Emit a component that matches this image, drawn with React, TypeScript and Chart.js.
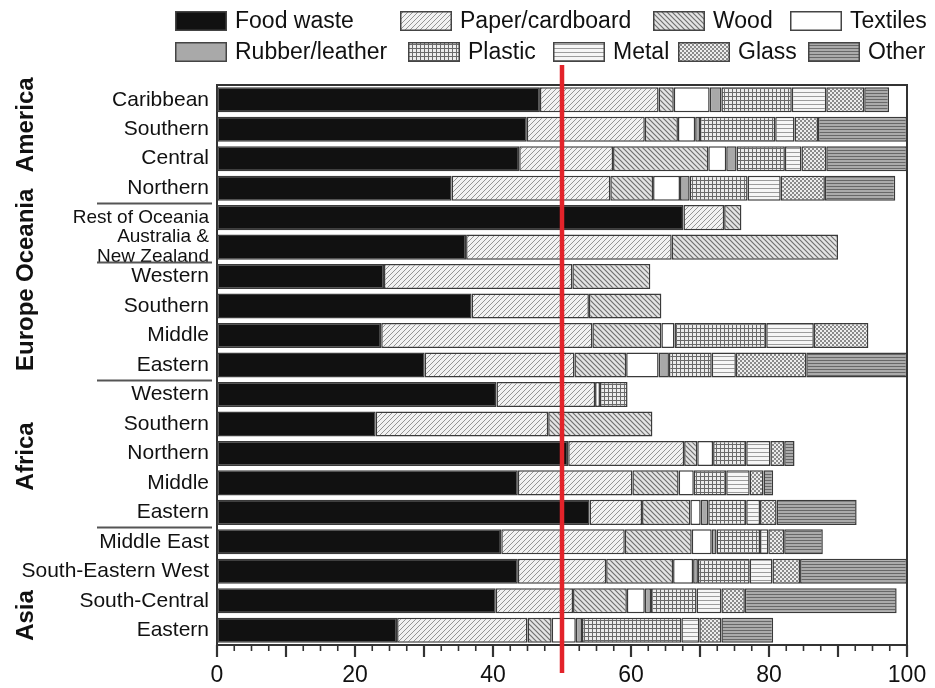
import React, { useEffect, useRef } from 'react';
import { Chart, registerables } from 'chart.js';

Chart.register(...registerables);

const FONT = '"Liberation Sans", Arial, Helvetica, sans-serif';

// ---------------- data ----------------
const categories: (string | string[])[] = [
  'Caribbean', 'Southern', 'Central', 'Northern',
  'Rest of Oceania', ['Australia &', 'New Zealand'],
  'Western', 'Southern', 'Middle', 'Eastern',
  'Western', 'Southern', 'Northern', 'Middle', 'Eastern',
  'Middle East', 'South-Eastern West', 'South-Central', 'Eastern',
];

const seriesNames = ['Food waste', 'Paper/cardboard', 'Wood', 'Textiles', 'Rubber/leather', 'Plastic', 'Metal', 'Glass', 'Other'];

const foodWaste = [46.8, 44.9, 43.8, 34.0, 67.6, 36.1, 24.2, 36.9, 23.8, 30.1, 40.5, 23.0, 50.9, 43.6, 54.0, 41.2, 43.6, 40.4, 26.1];
const paperCardboard = [17.2, 17.1, 13.6, 23.0, 5.9, 29.8, 27.3, 17.0, 30.6, 21.7, 14.3, 25.0, 16.8, 16.6, 7.6, 17.9, 12.8, 11.2, 18.9];
const wood = [2.2, 4.8, 13.8, 6.2, 2.5, 24.1, 11.3, 10.5, 10.0, 7.5, null, 15.1, 1.9, 6.7, 7.0, 9.7, 9.7, 7.8, 3.5];
const textiles = [5.2, 2.5, 2.6, 3.9, null, null, null, null, 1.9, 4.7, 0.7, null, 2.3, 2.2, 1.5, 2.9, 2.9, 2.6, 3.5];
const rubberLeather = [1.7, 0.7, 1.5, 1.4, null, null, null, null, null, 1.5, null, null, null, null, 1.1, 0.7, 0.7, 0.9, 0.9];
const plastic = [10.2, 10.9, 7.0, 8.4, null, null, null, null, 13.3, 6.2, 4.0, null, 4.8, 4.7, 5.5, 6.3, 7.5, 6.6, 14.4];
const metal = [5.0, 2.8, 2.4, 4.8, null, null, null, null, 6.9, 3.5, null, null, 3.5, 3.4, 2.0, 1.2, 3.3, 3.6, 2.6];
const glass = [5.5, 3.4, 3.6, 6.4, null, null, null, null, 7.9, 10.2, null, null, 2.0, 2.0, 2.4, 2.3, 4.0, 3.4, 3.2];
const other = [3.6, 12.9, 11.7, 10.2, null, null, null, null, null, 14.6, null, null, 1.5, 1.4, 11.6, 5.6, 15.5, 22.0, 7.5];

const seriesValues = [foodWaste, paperCardboard, wood, textiles, rubberLeather, plastic, metal, glass, other];

const regionNames = ['America', 'Oceania', 'Europe', 'Africa', 'Asia'];
const regionLabelAt = [0.85, 4.6, 7.8, 12.1, 17.5]; // category position of each rotated region label
const regionBreaks = [3.5, 5.5, 9.5, 14.5];
const referenceValue = 50;
const xTickLabels = [0, 20, 40, 60, 80, 100];

// ---------------- patterns ----------------
function tile(w: number, h: number, draw: (g: CanvasRenderingContext2D) => void) {
  const c = document.createElement('canvas');
  c.width = w;
  c.height = h;
  const g = c.getContext('2d')!;
  draw(g);
  return c;
}

function makeFills(ctx: CanvasRenderingContext2D): (string | CanvasPattern)[] {
  const pat = (c: HTMLCanvasElement) => ctx.createPattern(c, 'repeat')!;
  const paper = tile(5, 5, (g) => {
    g.fillStyle = '#f2f2f2'; g.fillRect(0, 0, 5, 5);
    g.strokeStyle = '#959595'; g.lineWidth = 1;
    g.beginPath();
    g.moveTo(0, 5); g.lineTo(5, 0);
    g.moveTo(-1, 1); g.lineTo(1, -1);
    g.moveTo(4, 6); g.lineTo(6, 4);
    g.stroke();
  });
  const woodT = tile(5, 5, (g) => {
    g.fillStyle = '#e4e4e4'; g.fillRect(0, 0, 5, 5);
    g.strokeStyle = '#707070'; g.lineWidth = 1.2;
    g.beginPath();
    g.moveTo(0, 0); g.lineTo(5, 5);
    g.moveTo(-1, 4); g.lineTo(1, 6);
    g.moveTo(4, -1); g.lineTo(6, 1);
    g.stroke();
  });
  const plasticT = tile(4, 4, (g) => {
    g.fillStyle = '#ececec'; g.fillRect(0, 0, 4, 4);
    g.fillStyle = '#6a6a6a';
    g.fillRect(0, 0, 1, 4);
    g.fillRect(0, 0, 4, 1);
  });
  const metalT = tile(4, 4, (g) => {
    g.fillStyle = '#f6f6f6'; g.fillRect(0, 0, 4, 4);
    g.fillStyle = '#9c9c9c'; g.fillRect(0, 0, 4, 1);
  });
  const glassT = tile(4, 4, (g) => {
    g.fillStyle = '#ededed'; g.fillRect(0, 0, 4, 4);
    g.fillStyle = '#8a8a8a';
    g.fillRect(0, 0, 2, 2);
    g.fillRect(2, 2, 2, 2);
  });
  const otherT = tile(4, 3, (g) => {
    g.fillStyle = '#ababab'; g.fillRect(0, 0, 4, 3);
    g.fillStyle = '#686868'; g.fillRect(0, 0, 4, 1);
  });
  return ['#111111', pat(paper), pat(woodT), '#ffffff', '#a9a9a9', pat(plasticT), pat(metalT), pat(glassT), pat(otherT)];
}

// ---------------- decorations ----------------
const legendRows = [[0, 1, 2, 3], [4, 5, 6, 7, 8]];
const legendBoxX = [[175, 400, 653, 790], [175, 408, 553, 678, 808]];
const legendRowY = [21, 52];

const decorPlugin = {
  id: 'decor',
  afterDraw(chart: any) {
    const { ctx, chartArea: a, scales } = chart;
    const xs = scales.x;
    const ys = scales.y;
    ctx.save();

    // frame (top/right)
    ctx.strokeStyle = '#333';
    ctx.lineWidth = 2;
    ctx.beginPath();
    ctx.moveTo(a.left, a.top);
    ctx.lineTo(a.right, a.top);
    ctx.lineTo(a.right, a.bottom);
    ctx.stroke();

    // x tick marks
    ctx.strokeStyle = '#333';
    for (let i = 0; i <= 40; i++) {
      const v = i * 2.5;
      const px = xs.getPixelForValue(v);
      const major = i % 4 === 0;
      ctx.lineWidth = major ? 2.2 : 1.6;
      ctx.beginPath();
      ctx.moveTo(px, a.bottom);
      ctx.lineTo(px, a.bottom + (major ? 12 : 6));
      ctx.stroke();
    }

    // region separators
    ctx.strokeStyle = '#555';
    ctx.lineWidth = 2;
    regionBreaks.forEach((b) => {
      const y = Math.round(ys.getPixelForValue(b)) + 0.5;
      ctx.beginPath();
      ctx.moveTo(97, y);
      ctx.lineTo(a.left - 5, y);
      ctx.stroke();
    });

    // region labels
    ctx.fillStyle = '#111';
    ctx.font = `bold 24px ${FONT}`;
    ctx.textAlign = 'center';
    ctx.textBaseline = 'middle';
    regionNames.forEach((name, i) => {
      const y = ys.getPixelForValue(regionLabelAt[i]);
      ctx.save();
      ctx.translate(26, y);
      ctx.rotate(-Math.PI / 2);
      ctx.fillText(name, 0, 0);
      ctx.restore();
    });

    // legend
    ctx.font = `23px ${FONT}`;
    ctx.textAlign = 'left';
    ctx.textBaseline = 'middle';
    legendRows.forEach((row, r) => {
      row.forEach((di, k) => {
        const ds = chart.data.datasets[di];
        const bx = legendBoxX[r][k];
        const by = legendRowY[r] - 10;
        ctx.fillStyle = ds.backgroundColor;
        ctx.fillRect(bx, by, 52, 20);
        ctx.strokeStyle = '#444';
        ctx.lineWidth = 1.5;
        ctx.strokeRect(bx + 0.75, by + 0.75, 50.5, 18.5);
        ctx.fillStyle = '#111';
        ctx.fillText(ds.label, bx + 60, legendRowY[r] + 1);
      });
    });

    // red reference line
    const rx = xs.getPixelForValue(referenceValue);
    ctx.strokeStyle = '#e3232a';
    ctx.lineWidth = 4.5;
    ctx.beginPath();
    ctx.moveTo(rx, 65);
    ctx.lineTo(rx, 673);
    ctx.stroke();

    ctx.restore();
  },
};

export default function App() {
  const canvasRef = useRef<HTMLCanvasElement | null>(null);

  useEffect(() => {
    const canvas = canvasRef.current!;
    const ctx = canvas.getContext('2d')!;
    const fills = makeFills(ctx);

    const datasets = seriesNames.map((name, i) => ({
      label: name,
      data: seriesValues[i],
      backgroundColor: fills[i],
      borderColor: '#3a3a3a',
      borderWidth: 1.5,
      borderSkipped: false,
      barPercentage: 0.85,
      categoryPercentage: 1.0,
    }));

    const chart = new Chart(canvas, {
      type: 'bar',
      data: { labels: categories as any, datasets: datasets as any },
      options: {
        indexAxis: 'y',
        animation: false,
        responsive: false,
        layout: { padding: { top: 85, right: 28, bottom: 0, left: 0 } },
        plugins: { legend: { display: false }, tooltip: { enabled: false } },
        scales: {
          x: {
            type: 'linear',
            stacked: true,
            min: 0,
            max: 100,
            afterBuildTicks: (scale: any) => {
              scale.ticks = xTickLabels.map((v) => ({ value: v }));
            },
            ticks: {
              font: { family: FONT, size: 23 },
              color: '#111',
              padding: 17,
              maxRotation: 0,
            },
            grid: { display: false, drawTicks: false },
            border: { display: true, color: '#333', width: 2 },
            afterFit: (scale: any) => {
              scale.height = 43;
              scale.paddingLeft = 0;
              scale.paddingRight = 0;
            },
          },
          y: {
            type: 'category',
            stacked: true,
            ticks: {
              autoSkip: false,
              color: '#111',
              padding: 8,
              font: (c: any) => ({
                family: FONT,
                size: c.index === 4 || c.index === 5 ? 19 : 21,
                lineHeight: 1.05,
              }),
            },
            grid: { display: false, drawTicks: false },
            border: { display: true, color: '#333', width: 2 },
            afterFit: (scale: any) => {
              scale.width = 217;
            },
          },
        },
      },
      plugins: [decorPlugin],
    });

    return () => chart.destroy();
  }, []);

  return (
    <div style={{ position: 'fixed', left: 0, top: 0, width: 935, height: 688, background: '#fff' }}>
      <canvas ref={canvasRef} width={935} height={688} style={{ display: 'block' }} />
    </div>
  );
}
